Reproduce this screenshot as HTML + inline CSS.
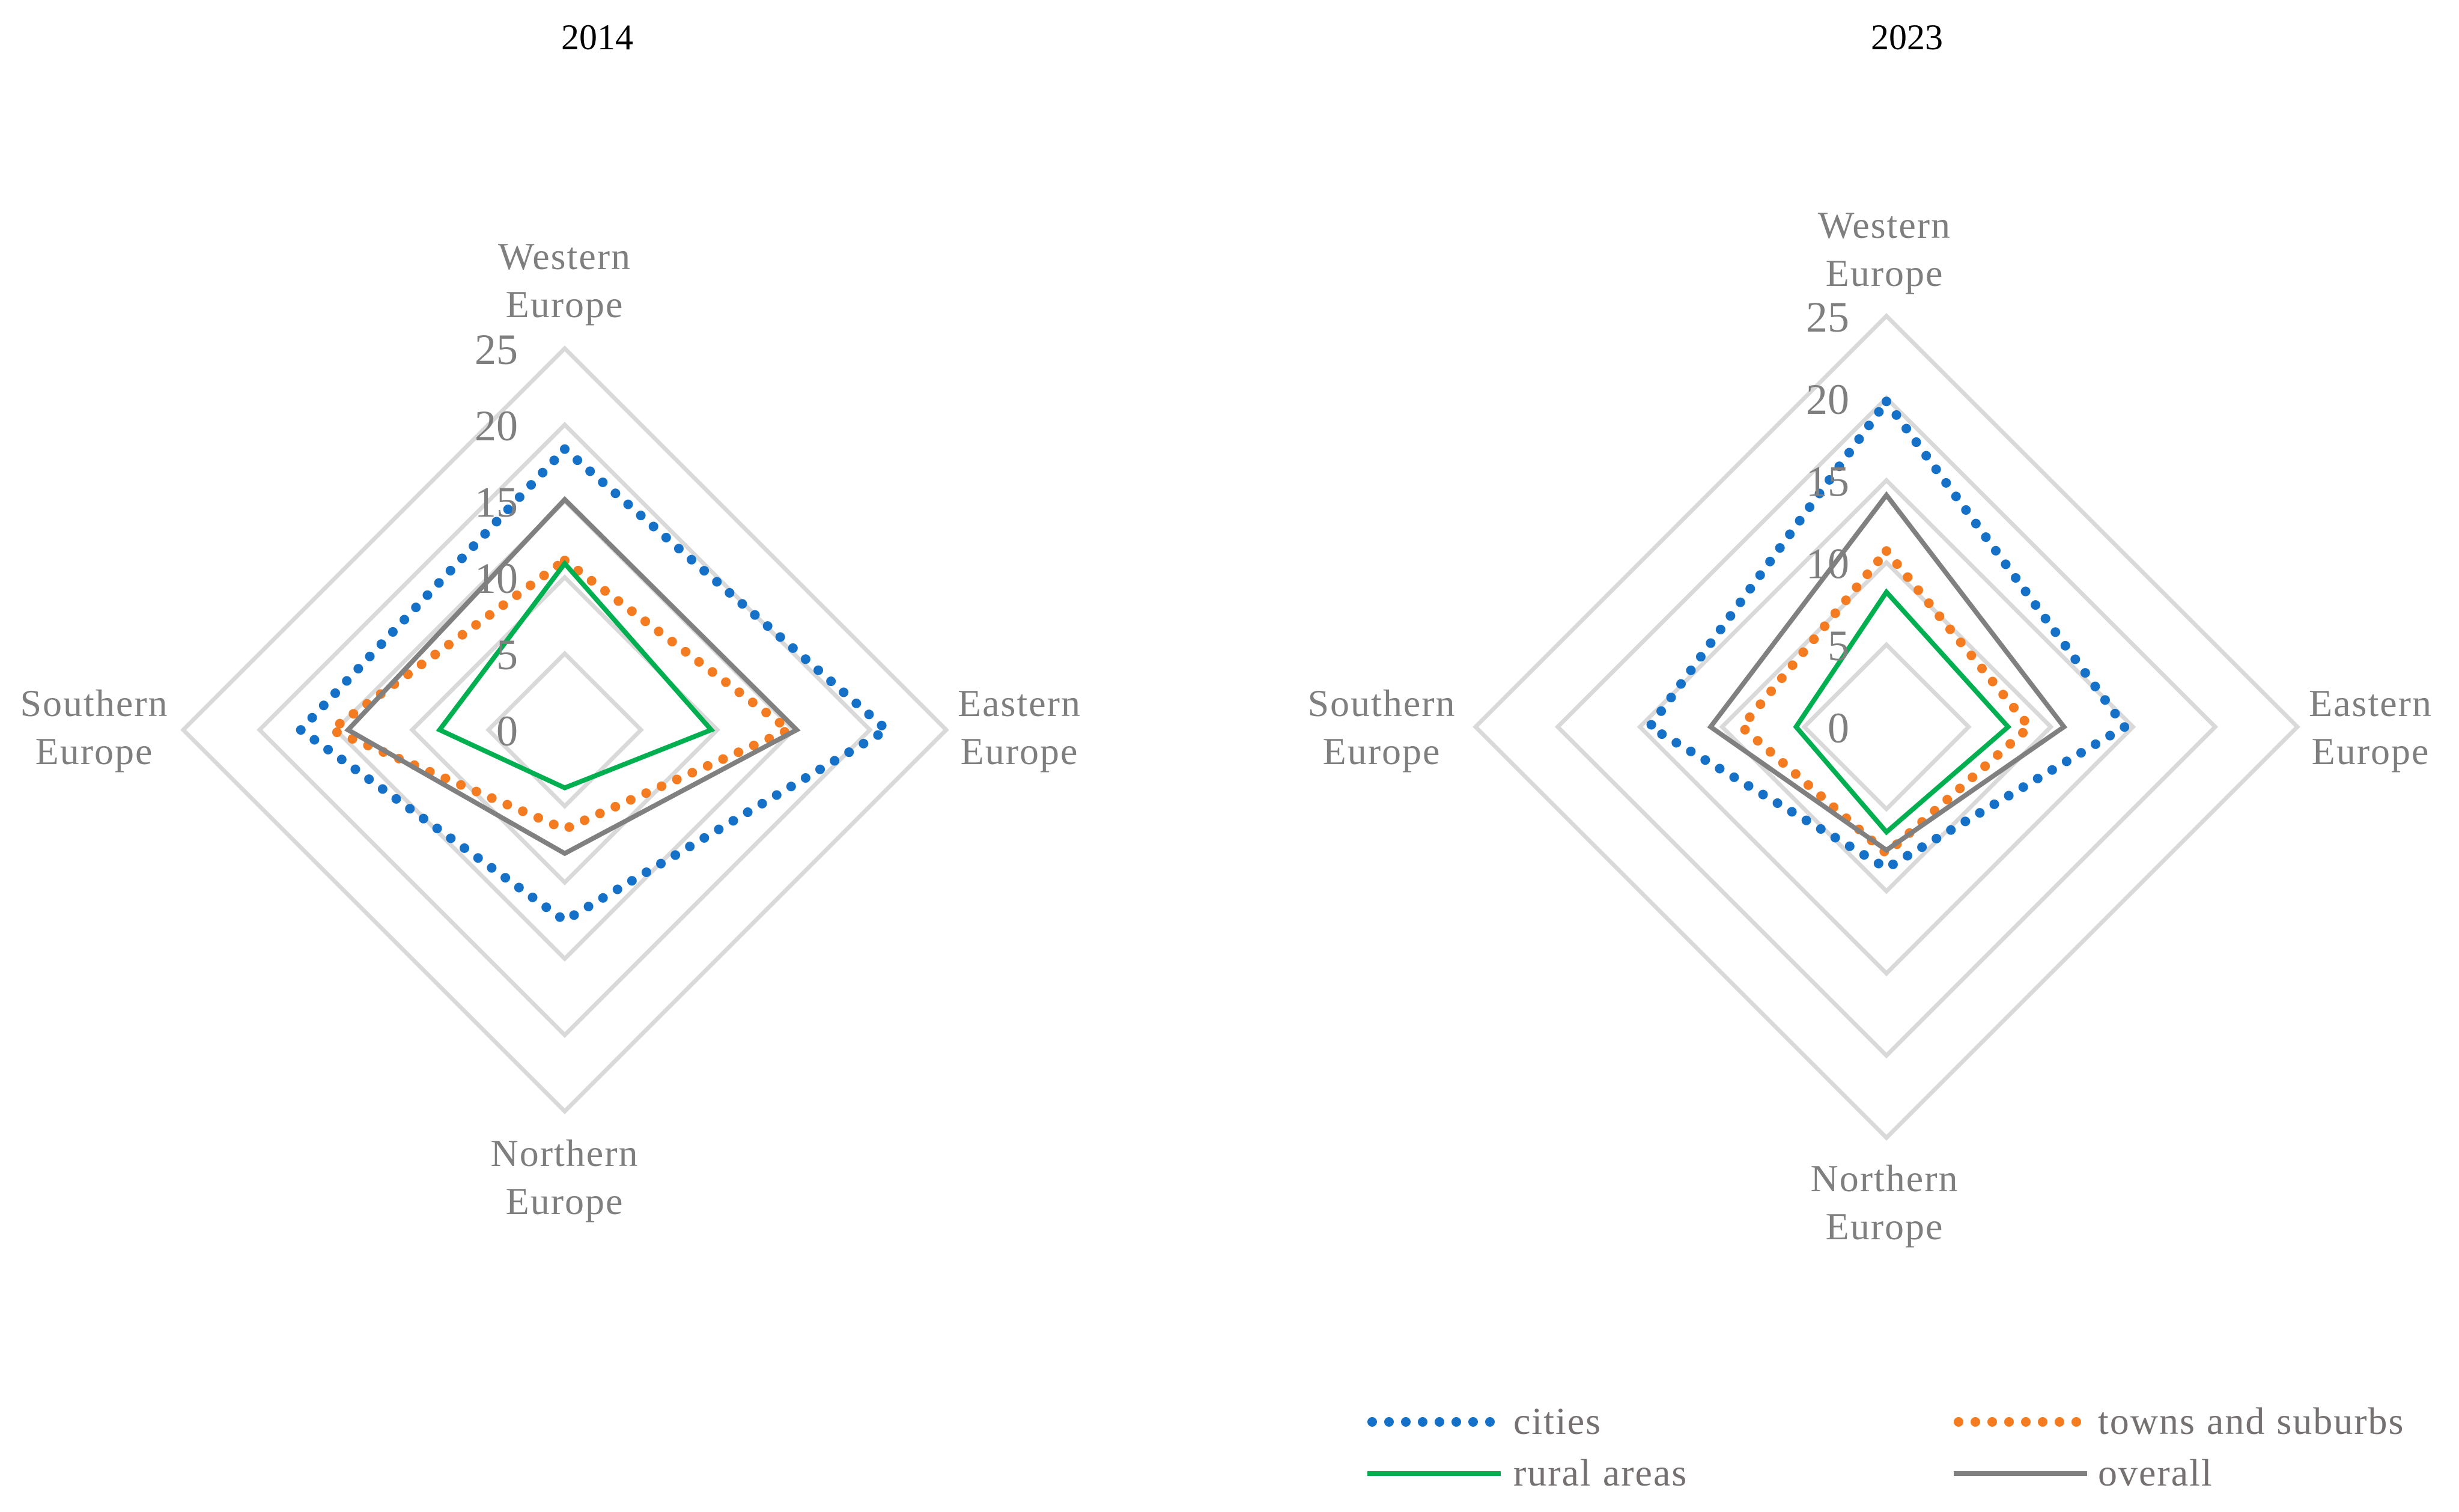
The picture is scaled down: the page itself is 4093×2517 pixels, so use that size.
<!DOCTYPE html>
<html><head><meta charset="utf-8"><style>
html,body{margin:0;padding:0;background:#fff;}
svg{display:block;font-family:"Liberation Serif",serif;}
</style></head><body>
<svg id="chart" width="4093" height="2517" viewBox="0 0 4093 2517" xmlns="http://www.w3.org/2000/svg">
<g id="panels"></g>
<g id="legend">
  <g>
    <line x1="2284" y1="2367" x2="2494" y2="2367" stroke="#1570c8" stroke-width="16" stroke-linecap="round" stroke-dasharray="0 28"/>
    <text x="2519" y="2387" font-size="64" letter-spacing="2" fill="#767171">cities</text>
  </g>
  <g>
    <line x1="3260" y1="2367" x2="3470" y2="2367" stroke="#f47b20" stroke-width="16" stroke-linecap="round" stroke-dasharray="0 28"/>
    <text x="3492" y="2387" font-size="64" letter-spacing="2" fill="#767171">towns and suburbs</text>
  </g>
  <g>
    <line x1="2276" y1="2453" x2="2498" y2="2453" stroke="#00b050" stroke-width="8"/>
    <text x="2519" y="2473" font-size="64" letter-spacing="2" fill="#767171">rural areas</text>
  </g>
  <g>
    <line x1="3252" y1="2453" x2="3474" y2="2453" stroke="#808080" stroke-width="8"/>
    <text x="3492" y="2473" font-size="64" letter-spacing="2" fill="#767171">overall</text>
  </g>
</g>
</svg>
<script>
// Axis order: Western (top), Eastern (right), Northern (bottom), Southern (left)
const categories = ["Western Europe", "Eastern Europe", "Northern Europe", "Southern Europe"];
const tickLabels = [0, 5, 10, 15, 20, 25];
const years = ["2014", "2023"];
const cities2014  = [18.4, 21.1, 12.5, 17.3];
const towns2014   = [11.1, 14.7, 6.5, 15.3];
const rural2014   = [10.9, 9.6, 3.8, 8.2];
const overall2014 = [15.1, 15.2, 8.1, 14.2];
const cities2023  = [19.8, 14.5, 8.6, 14.4];
const towns2023   = [10.7, 8.7, 7.7, 8.8];
const rural2023   = [8.2, 7.4, 6.4, 5.5];
const overall2023 = [14.1, 10.8, 7.5, 10.7];

const NS = "http://www.w3.org/2000/svg";
const panelsG = document.getElementById('panels');
const panelGeom = [
  {cx: 940, cy: 1215, R: 635, tickOff: 78, titleX: 994, labelPos: [[940,428],[1697,1172],[940,1921],[157,1172]]},
  {cx: 3140, cy: 1210, R: 684, tickOff: 62, titleX: 3174, labelPos: [[3137,376],[3946,1172],[3137,1963],[2300,1172]]}
];
const seriesStyles = [
  {name:'cities', color:'#1570c8', dotted:true},
  {name:'towns-and-suburbs', color:'#f47b20', dotted:true},
  {name:'rural-areas', color:'#00b050', dotted:false},
  {name:'overall', color:'#808080', dotted:false}
];
const panelData = [
  [cities2014, towns2014, rural2014, overall2014],
  [cities2023, towns2023, rural2023, overall2023]
];
const maxV = tickLabels[tickLabels.length-1];
const dirs = [[0,-1],[1,0],[0,1],[-1,0]];

function mk(tag, attrs, parent){
  const e = document.createElementNS(NS, tag);
  for (const k in attrs) e.setAttribute(k, attrs[k]);
  parent.appendChild(e);
  return e;
}
function pt(g, i, v){
  const r = v / maxV * g.R;
  return [g.cx + dirs[i][0]*r, g.cy + dirs[i][1]*r];
}

panelGeom.forEach((g, p) => {
  const pg = mk('g', {}, panelsG);
  
  
  const t = mk('text', {x:g.titleX, y:82, 'font-size':60, fill:'#000', 'text-anchor':'middle'}, pg);
  t.textContent = years[p];
  
  
  tickLabels.forEach(tv => {
    if (tv === 0) return;
    const pts = [0,1,2,3].map(i => pt(g, i, tv).join(',')).join(' ');
    const poly = mk('polygon', {points: pts, fill:'none', stroke:'#d9d9d9', 'stroke-width':7}, pg);
    
    
  });
  panelData[p].forEach((vals, s) => {
    const st = seriesStyles[s];
    const pts = vals.map((v, i) => pt(g, i, v).join(',')).join(' ');
    const attrs = {points: pts, fill:'none', stroke: st.color};
    if (st.dotted) { attrs['stroke-width'] = 16; attrs['stroke-linecap'] = 'round'; attrs['stroke-dasharray'] = '0 28'; }
    else { attrs['stroke-width'] = 8; attrs['stroke-linejoin'] = 'miter'; }
    const poly = mk('polygon', attrs, pg);
    
    
  });
  tickLabels.forEach(tv => {
    const [x, y] = pt(g, 0, tv);
    const tt = mk('text', {x: x - g.tickOff, y: y + 26, 'font-size':72, fill:'#7f7f7f', 'text-anchor':'end'}, pg);
    tt.textContent = tv;
    
    
  });
  categories.forEach((c, i) => {
    const [x, y] = g.labelPos[i];
    const parts = c.split(' ');
    parts.forEach((w, j) => {
      const tx = mk('text', {x: x, y: y + j*80 + 20, 'font-size':64, 'letter-spacing':2, fill:'#7f7f7f', 'text-anchor':'middle'}, pg);
      tx.textContent = w;
      
      
    });
  });
});
</script>
</body></html>
